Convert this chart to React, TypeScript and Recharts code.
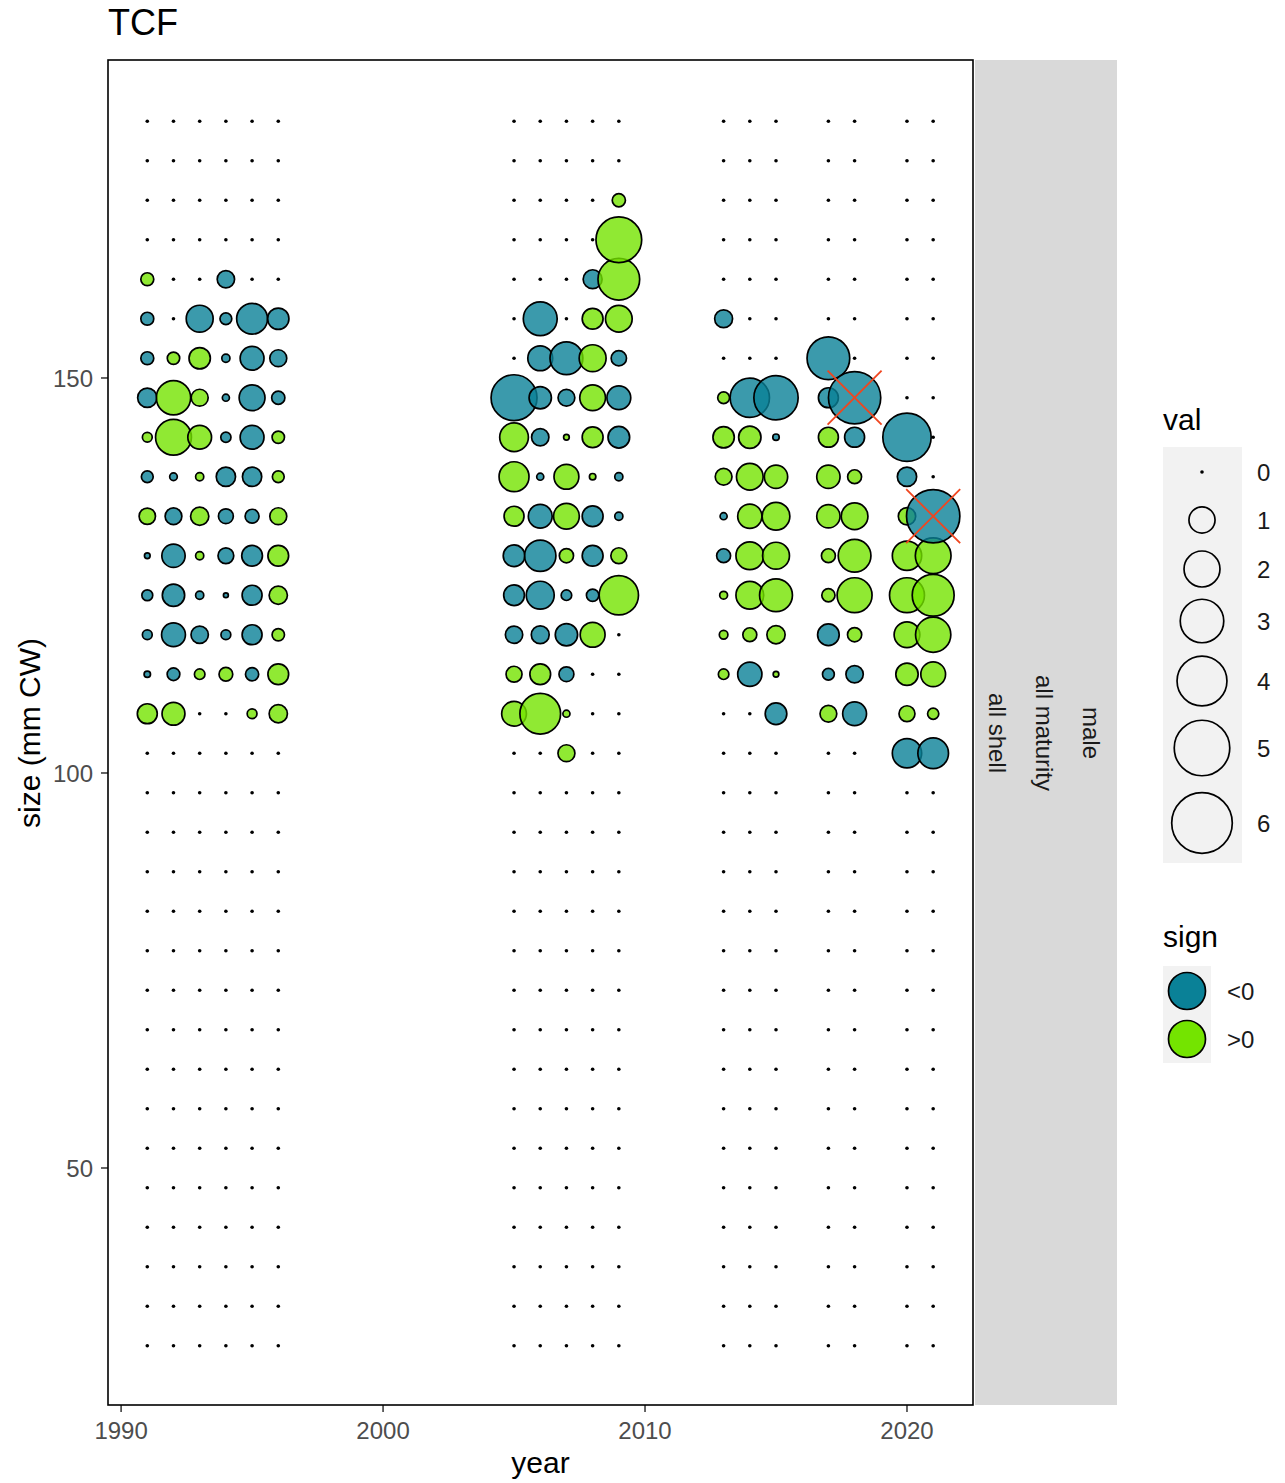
import React from "react";
import { ScatterChart, Scatter, XAxis, YAxis } from "recharts";

// survey years with data
const years = [1991, 1992, 1993, 1994, 1995, 1996, 2005, 2006, 2007, 2008, 2009, 2013, 2014, 2015, 2017, 2018, 2020, 2021];

// all size bins (mm CW)
const sizeBins = [
  27.5, 32.5, 37.5, 42.5, 47.5, 52.5, 57.5, 62.5, 67.5, 72.5, 77.5, 82.5, 87.5, 92.5, 97.5, 102.5,
  107.5, 112.5, 117.5, 122.5, 127.5, 132.5, 137.5, 142.5, 147.5, 152.5, 157.5, 162.5, 167.5, 172.5, 177.5, 182.5,
];

// bins with non-zero residuals, top to bottom
const residBins = [172.5, 167.5, 162.5, 157.5, 152.5, 147.5, 142.5, 137.5, 132.5, 127.5, 122.5, 117.5, 112.5, 107.5, 102.5];

// residuals per year (same order as years), one value per residBins entry
const resid: number[][] = [
  [0, 0, 0.2, -0.2, -0.2, -0.51, 0.1, -0.16, 0.35, -0.02, -0.13, -0.1, -0.03, 0.55, 0],
  [0, 0, 0, 0, 0.18, 1.81, 1.99, -0.05, -0.37, -0.78, -0.71, -0.82, -0.19, 0.75, 0],
  [0, 0, 0, -1.07, 0.64, 0.38, 0.81, 0.06, 0.45, 0.06, -0.06, -0.4, 0.12, 0, 0],
  [0, 0, -0.4, -0.16, -0.06, -0.04, -0.11, -0.51, -0.28, -0.32, -0.012, -0.1, 0.23, 0, 0],
  [0, 0, 0, -1.44, -0.82, -0.98, -0.82, -0.51, -0.24, -0.6, -0.55, -0.55, -0.21, 0.1, 0],
  [0, 0, 0, -0.64, -0.38, -0.21, 0.18, 0.16, 0.38, 0.6, 0.45, 0.18, 0.6, 0.45, 0],
  [0, 0, 0, 0, 0, -3.36, 1.23, 1.35, 0.55, -0.66, -0.6, -0.4, 0.33, 0.89, 0],
  [0, 0, 0, -1.76, -0.9, -0.71, -0.4, -0.04, -0.82, -1.49, -1.16, -0.43, 0.6, 2.6, 0],
  [0, 0, 0, 0, -1.65, -0.37, 0.02, 0.9, 0.97, 0.25, -0.12, -0.71, -0.28, 0.04, 0.38],
  [0, 0, -0.49, 0.61, 1.07, 0.97, 0.61, 0.03, -0.61, -0.61, -0.18, 0.9, 0, 0, 0],
  [0.21, 3.33, 2.74, 1.05, -0.3, -0.82, -0.66, -0.06, -0.06, 0.33, 2.42, 0, 0, 0, 0],
  [0, 0, 0, -0.43, 0, 0.16, 0.64, 0.37, -0.04, -0.24, 0.055, 0.07, 0.12, 0, 0],
  [0, 0, 0, 0, 0, -2.42, 0.71, 1.05, 0.85, 1.14, 1.14, 0.24, -0.85, 0, 0],
  [0, 0, 0, 0, 0, -3.11, -0.03, 0.78, 1.14, 1.07, 1.65, 0.45, 0.02, -0.66, 0],
  [0, 0, 0, 0, -2.88, -0.55, 0.55, 0.78, 0.78, 0.24, 0.21, -0.66, -0.16, 0.37, 0],
  [0, 0, 0, 0, 0, -4.41, -0.55, 0.24, 1.05, 1.63, 1.88, 0.25, -0.4, -0.82, 0],
  [0, 0, 0, 0, 0, 0, -3.74, -0.51, 0.4, 1.29, 1.88, 0.97, 0.71, 0.33, -1.29],
  [0, 0, 0, 0, 0, 0, 0, 0, -4.6, 1.97, 2.77, 1.92, 0.89, 0.14, -1.42],
];

// points marked with a red cross
const flaggedYears = [2018, 2021];
const flaggedSizes = [147.5, 132.5];

const legendVals = [0, 1, 2, 3, 4, 5, 6];
const signLabels = ["<0", ">0"];

const TEAL = "#0A8197";
const GREEN = "#74E400";
const FONT = '"Liberation Sans", Arial, Helvetica, sans-serif';

const W = 1277;
const H = 1475;
const PL = 100;
const PR = 965;
const PT = 52;
const PB = 1397;

const outerR = (v: number) => (v === 0 ? 1.8 : 2 + 11.9 * Math.sqrt(Math.abs(v)));

const points = years.flatMap((yr, i) =>
  sizeBins.map((s) => {
    const k = residBins.indexOf(s);
    return { year: yr, size: s, val: k >= 0 ? resid[i][k] : 0 };
  })
);

const flagged = flaggedYears.map((yr, i) => ({ year: yr, size: flaggedSizes[i] }));

const Bubble = (props: any) => {
  const { cx, cy } = props;
  if (cx == null || cy == null) return null;
  const p = props.payload ?? props;
  const v = p.val;
  if (v === 0) return <circle cx={cx} cy={cy} r={1.8} fill="#000" />;
  return (
    <circle
      cx={cx}
      cy={cy}
      r={outerR(v) - 0.85}
      fill={v < 0 ? TEAL : GREEN}
      fillOpacity={0.8}
      stroke="#000"
      strokeWidth={1.7}
    />
  );
};

const Cross = (props: any) => {
  const { cx, cy } = props;
  if (cx == null || cy == null) return null;
  const d = 27;
  return (
    <g stroke="#F0461F" strokeWidth={1.8}>
      <line x1={cx - d} y1={cy - d} x2={cx + d} y2={cy + d} />
      <line x1={cx - d} y1={cy + d} x2={cx + d} y2={cy - d} />
    </g>
  );
};

function Overlay() {
  const keyYs = [464, 512, 561, 613, 673, 740, 815];
  return (
    <svg
      width={W}
      height={H + 8}
      style={{ position: "absolute", left: 0, top: -8, pointerEvents: "none" }}
      fontFamily={FONT}
    >
      <g transform="translate(0, 8)">
        {/* panel border */}
        <rect x={PL} y={PT} width={PR - PL} height={PB - PT} fill="none" stroke="#000" strokeWidth={1.6} />

        {/* facet strip */}
        <rect x={967} y={PT} width={142} height={PB - PT} fill="#D9D9D9" />
        {["all shell", "all maturity", "male"].map((t, i) => (
          <text
            key={t}
            transform={`translate(${989 + i * 47}, 725) rotate(90)`}
            textAnchor="middle"
            dominantBaseline="central"
            fontSize={24}
            fill="#1A1A1A"
          >
            {t}
          </text>
        ))}

        {/* titles */}
        <text x={100} y={27} fontSize={36} fill="#000">TCF</text>
        <text x={532.5} y={1465} fontSize={30} textAnchor="middle" fill="#000">year</text>
        <text transform="translate(32, 725) rotate(-90)" fontSize={30} textAnchor="middle" fill="#000">
          size (mm CW)
        </text>

        {/* val legend */}
        <text x={1155} y={422} fontSize={30} fill="#000">val</text>
        <rect x={1155} y={439} width={79} height={416} fill="#F2F2F2" />
        {legendVals.map((v, i) => (
          <g key={v}>
            {v === 0 ? (
              <circle cx={1194} cy={keyYs[i]} r={1.8} fill="#000" />
            ) : (
              <circle cx={1194} cy={keyYs[i]} r={outerR(v) - 0.85} fill="none" stroke="#000" strokeWidth={1.7} />
            )}
            <text x={1249} y={keyYs[i]} fontSize={24} dominantBaseline="central" fill="#1A1A1A">
              {v}
            </text>
          </g>
        ))}

        {/* sign legend */}
        <text x={1155} y={939} fontSize={30} fill="#000">sign</text>
        <rect x={1155} y={958} width={48} height={97} fill="#F2F2F2" />
        {signLabels.map((s, i) => (
          <g key={s}>
            <circle cx={1179} cy={983 + i * 48} r={18.5} fill={i === 0 ? TEAL : GREEN} stroke="#000" strokeWidth={1.7} />
            <text x={1219} y={983 + i * 48} fontSize={24} dominantBaseline="central" fill="#1A1A1A">
              {s}
            </text>
          </g>
        ))}
      </g>
    </svg>
  );
}

export default function App() {
  return (
    <div style={{ position: "relative", width: W, height: H, fontFamily: FONT }}>
      <ScatterChart
        width={W}
        height={H}
        margin={{ top: PT, left: PL - 60, right: W - PR, bottom: H - PB - 50 }}
      >
        <XAxis
          type="number"
          dataKey="year"
          domain={[1989.5, 2022.52]}
          ticks={[1990, 2000, 2010, 2020]}
          allowDataOverflow
          height={50}
          axisLine={false}
          tickSize={7}
          tickMargin={10}
          tickLine={{ stroke: "#333", strokeWidth: 1.5 }}
          tick={{ fill: "#4D4D4D", fontSize: 24 }}
        />
        <YAxis
          type="number"
          dataKey="size"
          domain={[20, 190.25]}
          ticks={[50, 100, 150]}
          allowDataOverflow
          width={60}
          axisLine={false}
          tickSize={7}
          tickMargin={8}
          tickLine={{ stroke: "#333", strokeWidth: 1.5 }}
          tick={{ fill: "#4D4D4D", fontSize: 24 }}
        />
        <Scatter data={points} shape={Bubble} isAnimationActive={false} />
        <Scatter data={flagged} shape={Cross} isAnimationActive={false} />
      </ScatterChart>
      <Overlay />
    </div>
  );
}
